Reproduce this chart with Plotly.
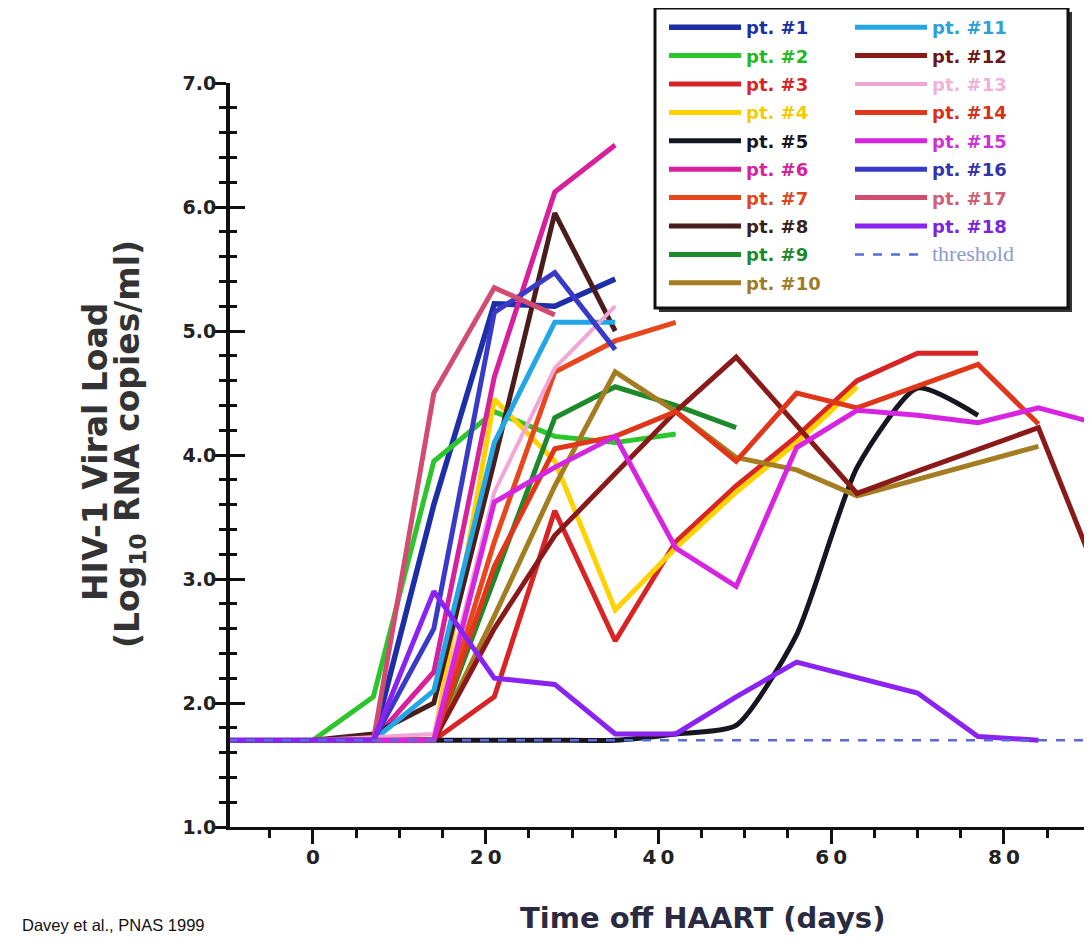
import plotly.graph_objects as go

# ---------------- data (days off HAART, log10 RNA copies/ml) ----------------
threshold = 1.7
threshold_days = [-14, 95]

days_p1 = [0, 7, 14, 21, 28, 35]
vl_p1 = [1.7, 1.7, 3.6, 5.22, 5.2, 5.42]
days_p2 = [0, 7, 14, 21, 28, 35, 42]
vl_p2 = [1.7, 2.05, 3.95, 4.35, 4.15, 4.1, 4.17]
days_p3 = [0, 14, 21, 28, 35, 42, 49, 56, 63, 70, 77]
vl_p3 = [1.7, 1.7, 2.05, 3.55, 2.5, 3.3, 3.75, 4.15, 4.6, 4.82, 4.82]
days_p4 = [0, 14, 21, 28, 35, 42, 49, 56, 63]
vl_p4 = [1.7, 1.7, 4.45, 3.95, 2.75, 3.25, 3.7, 4.1, 4.55]
days_p5 = [-14, 0, 7, 14, 21, 28, 35, 42, 49, 56, 63, 70, 77]
vl_p5 = [1.7, 1.7, 1.7, 1.7, 1.7, 1.7, 1.7, 1.75, 1.82, 2.55, 3.9, 4.54, 4.32]
days_p6 = [0, 7, 14, 21, 28, 35]
vl_p6 = [1.7, 1.7, 2.25, 4.63, 6.12, 6.5]
days_p7 = [0, 14, 21, 28, 35, 42]
vl_p7 = [1.7, 1.7, 3.3, 4.67, 4.92, 5.07]
days_p8 = [0, 7, 14, 21, 28, 35]
vl_p8 = [1.7, 1.75, 2.0, 3.95, 5.95, 5.0]
days_p9 = [0, 14, 21, 28, 35, 42, 49]
vl_p9 = [1.7, 1.7, 3.0, 4.3, 4.55, 4.4, 4.22]
days_p10 = [0, 14, 21, 28, 35, 42, 49, 56, 63, 70, 77, 84]
vl_p10 = [1.7, 1.7, 2.7, 3.75, 4.67, 4.35, 3.98, 3.88, 3.67, 3.8, 3.93, 4.07]
days_p11 = [0, 7, 14, 21, 28, 35]
vl_p11 = [1.7, 1.7, 2.1, 4.1, 5.07, 5.07]
days_p12 = [0, 14, 21, 28, 35, 42, 49, 56, 63, 70, 77, 84, 91]
vl_p12 = [1.7, 1.7, 2.6, 3.35, 3.85, 4.35, 4.79, 4.24, 3.69, 3.87, 4.05, 4.22, 3.0]
days_p13 = [0, 14, 21, 28, 35]
vl_p13 = [1.7, 1.75, 3.7, 4.7, 5.2]
days_p14 = [0, 14, 21, 28, 35, 42, 49, 56, 63, 70, 77, 84]
vl_p14 = [1.7, 1.7, 3.1, 4.05, 4.15, 4.35, 3.95, 4.5, 4.38, 4.55, 4.73, 4.25]
days_p15 = [0, 14, 21, 28, 35, 42, 49, 56, 63, 70, 77, 84, 91]
vl_p15 = [1.7, 1.7, 3.62, 3.9, 4.15, 3.25, 2.94, 4.06, 4.36, 4.32, 4.26, 4.38, 4.25]
days_p16 = [0, 7, 14, 21, 28, 35]
vl_p16 = [1.7, 1.7, 2.6, 5.15, 5.47, 4.85]
days_p17 = [0, 7, 14, 21, 28]
vl_p17 = [1.7, 1.7, 4.5, 5.35, 5.13]
days_p18 = [-14, 0, 7, 14, 21, 28, 35, 42, 49, 56, 63, 70, 77, 84]
vl_p18 = [1.7, 1.7, 1.7, 2.9, 2.2, 2.15, 1.75, 1.75, 2.05, 2.33, 2.2, 2.08, 1.73, 1.7]

names = [f"pt. #{i}" for i in range(1, 19)]
x_ticks = [0, 20, 40, 60, 80]
x_tick_labels = ["0", "2\u20090", "4\u20090", "6\u20090", "8\u20090"]
y_ticks = [1, 2, 3, 4, 5, 6, 7]
y_tick_labels = ["1.0", "2.0", "3.0", "4.0", "5.0", "6.0", "7.0"]

series = [
    (days_p1, vl_p1, "#1c2fa6", "#1c2fa6", 5.5),
    (days_p2, vl_p2, "#2cc62c", "#22b822", 5),
    (days_p3, vl_p3, "#d82424", "#d82424", 5),
    (days_p4, vl_p4, "#ffd200", "#f2cc00", 5),
    (days_p5, vl_p5, "#161620", "#161620", 5),
    (days_p6, vl_p6, "#d8209c", "#d8209c", 5),
    (days_p7, vl_p7, "#e8461c", "#e0461c", 5),
    (days_p8, vl_p8, "#4a1c1c", "#3a2020", 5),
    (days_p9, vl_p9, "#1c8a2a", "#1c8a2a", 5),
    (days_p10, vl_p10, "#a47c22", "#a07a28", 5),
    (days_p11, vl_p11, "#22a6e6", "#2aa0dc", 5),
    (days_p12, vl_p12, "#8a1a1a", "#6a1818", 5),
    (days_p13, vl_p13, "#f0a6d6", "#f0b2d8", 4),
    (days_p14, vl_p14, "#e0361a", "#d8301a", 5),
    (days_p15, vl_p15, "#d624e0", "#d030d8", 5),
    (days_p16, vl_p16, "#3a3ac8", "#3434b0", 5),
    (days_p17, vl_p17, "#d24c72", "#d0607a", 5),
    (days_p18, vl_p18, "#8a22f2", "#7a24e0", 5),
]

fig = go.Figure()
for i, (d, v, c, tc, w) in enumerate(series):
    fig.add_trace(go.Scatter(
        x=d, y=v, mode="lines",
        line=dict(color=c, width=w, shape="spline" if i == 4 else "linear", smoothing=0.6),
        name=f"<span style='color:{tc}'>{names[i]}</span>",
        legend="legend" if i < 10 else "legend2",
        legendgroup=f"g{i}",
        hoverinfo="skip",
    ))

fig.add_trace(go.Scatter(
    x=threshold_days, y=[threshold, threshold], mode="lines", yaxis="y2",
    line=dict(color="#5a6ad8", width=2.5, dash="dash"),
    name="<span style='color:#8c9ad0;font-weight:normal;font-family:Liberation Serif;font-size:22px'>threshold</span>",
    legend="legend2", legendgroup="thr", hoverinfo="skip",
))

# the page body has an 8px margin, so figure coords = screen coords - 8
OFF = 8
W, H = 1092 - OFF, 946 - OFF
L, T = 230 - OFF, 83 - OFF
R = 0
B = H - (827 - OFF)
pw, ph = W - L - R, H - T - B

def px(xs):
    return (xs - OFF - L) / pw

def py(ys):
    return (H - B - (ys - OFF)) / ph

FAM = "DejaVu Sans, Liberation Sans, Arial, sans-serif"
font_b = dict(family=FAM, weight="bold")

fig.update_layout(
    width=W, height=H,
    margin=dict(l=L, r=R, t=T, b=B, autoexpand=False),
    paper_bgcolor="white", plot_bgcolor="white",
    showlegend=True,
    xaxis=dict(
        range=[-9.6, 90.2], tickvals=x_ticks, ticktext=x_tick_labels,
        showgrid=False, zeroline=False,
        showline=True, linewidth=3, linecolor="#111",
        ticks="outside", ticklen=14, tickwidth=3, tickcolor="#111",
        minor=dict(dtick=5, tick0=0, ticks="outside", ticklen=8, tickwidth=3, tickcolor="#111"),
        tickfont=dict(size=20, color="#222", **font_b),
        ticklabelstandoff=-4,
    ),
    yaxis=dict(
        range=[1, 7], tickvals=y_ticks, ticktext=y_tick_labels,
        showgrid=False, zeroline=False,
        showline=True, linewidth=4, linecolor="#111",
        ticks="outside", ticklen=11, tickwidth=3, tickcolor="#111",
        minor=dict(dtick=0.2, tick0=1, ticks="outside", ticklen=7, tickwidth=3, tickcolor="#111"),
        tickfont=dict(size=19, color="#222", **font_b),
        ticklabelstandoff=-5,
    ),
    yaxis2=dict(
        range=[1, 7], overlaying="y", side="left", anchor="x",
        tickvals=y_ticks, showticklabels=False,
        showgrid=False, zeroline=False, showline=False,
        ticks="inside", ticklen=15, tickwidth=3, tickcolor="#111",
        minor=dict(dtick=0.2, tick0=1, ticks="inside", ticklen=7, tickwidth=3, tickcolor="#111"),
    ),
    legend=dict(
        x=px(664), y=py(9), xanchor="left", yanchor="top",
        bgcolor="rgba(0,0,0,0)", borderwidth=0,
        font=dict(size=18, color="#111", **font_b),
        itemwidth=72, tracegroupgap=2, itemclick=False, itemdoubleclick=False,
    ),
    legend2=dict(
        x=px(850), y=py(9), xanchor="left", yanchor="top",
        bgcolor="rgba(0,0,0,0)", borderwidth=0,
        font=dict(size=18, color="#111", **font_b),
        itemwidth=72, tracegroupgap=2, itemclick=False, itemdoubleclick=False,
    ),
    shapes=[
        dict(type="rect", xref="paper", yref="paper",
             x0=px(659), x1=px(1072), y0=py(312), y1=py(12),
             fillcolor="#333", line=dict(width=0), layer="above"),
        dict(type="rect", xref="paper", yref="paper",
             x0=px(655), x1=px(1068), y0=py(308), y1=py(8),
             fillcolor="white", line=dict(color="#111", width=3), layer="above"),
    ],
    annotations=[
        dict(text="HIV-1 Viral Load", xref="paper", yref="paper",
             x=px(95), y=py(452), xanchor="center", yanchor="middle", textangle=-90,
             showarrow=False, font=dict(size=33, color="#333", **font_b)),
        dict(text="(Log<sub>10</sub> RNA copies/ml)", xref="paper", yref="paper",
             x=px(129), y=py(444), xanchor="center", yanchor="middle", textangle=-90,
             showarrow=False, font=dict(size=33, color="#333", **font_b)),
        dict(text="Time off HAART (days)", xref="paper", yref="paper",
             x=px(702), y=py(918), xanchor="center", yanchor="middle",
             showarrow=False, font=dict(size=29, color="#2a2a40", **font_b)),
        dict(text="Davey et al., PNAS 1999", xref="paper", yref="paper",
             x=px(20), y=py(925), xanchor="left", yanchor="middle",
             showarrow=False, font=dict(size=16.5, color="#111",
                                        family="Liberation Sans, Arial, sans-serif")),
    ],
)

fig.write_html("out.html")
